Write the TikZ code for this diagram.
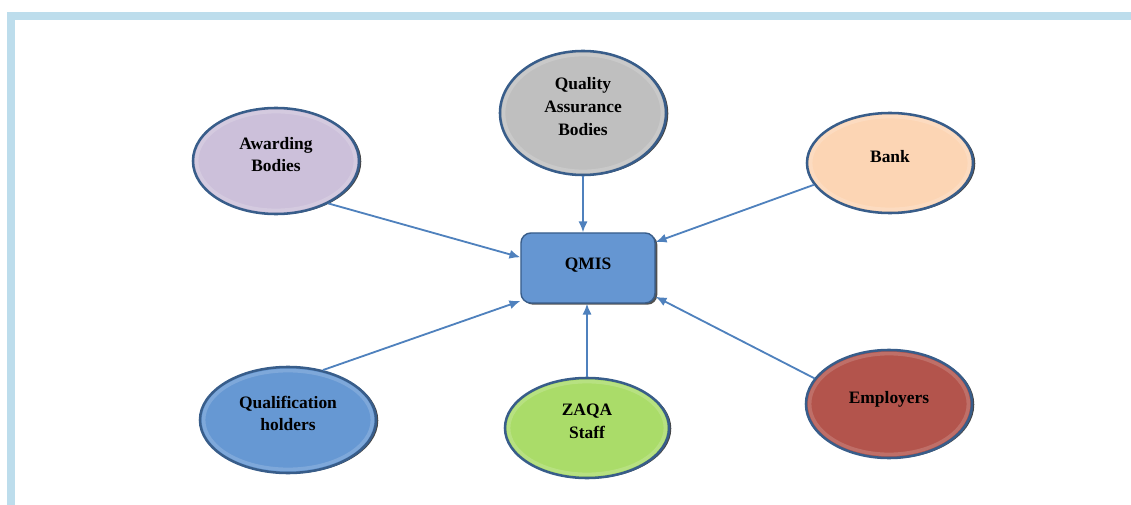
\documentclass[tikz,border=0pt]{standalone}
\usepackage{fontspec}
\setmainfont{Liberation Serif}
\usetikzlibrary{shapes.geometric, arrows.meta, shadows, calc}
\definecolor{framecol}{RGB}{189,221,236}
\definecolor{ringblue}{RGB}{56,93,138}
\definecolor{linkblue}{RGB}{79,129,189}
\definecolor{lilac}{RGB}{204,192,218}
\definecolor{greybody}{RGB}{191,191,191}
\definecolor{peach}{RGB}{252,213,180}
\definecolor{qmisblue}{RGB}{101,150,210}
\definecolor{holderblue}{RGB}{102,152,211}
\definecolor{limegreen}{RGB}{170,220,105}
\definecolor{brick}{RGB}{179,84,76}
\tikzset{
  bubble/.style={ellipse, draw=ringblue, line width=1.8pt, fill=#1, align=center,
    font=\bfseries\fontsize{12.4}{16.2}\selectfont, text depth=0.33cm,
    drop shadow={shadow xshift=1.6pt, shadow yshift=-0.4pt, fill=black!85, opacity=0.85},
    path picture={\draw[white, opacity=0.16, line width=2.5pt]
      let \p1=($(path picture bounding box.north east)-(path picture bounding box.center)$) in
      (path picture bounding box.center) ellipse [x radius=\x1-2.6pt, y radius=\y1-2.6pt];}},
  hub/.style={rectangle, rounded corners=7pt, draw=ringblue, line width=1pt, fill=qmisblue,
    minimum width=3.35cm, minimum height=1.75cm, font=\bfseries\fontsize{12.4}{16.2}\selectfont,
    text depth=0.2cm,
    drop shadow={shadow xshift=1.6pt, shadow yshift=-1.2pt, fill=black!85, opacity=0.8}},
  link/.style={draw=linkblue, line width=1.3pt, -{Latex[length=2.7mm,width=2.3mm]}}
}

\begin{document}
\begin{tikzpicture}[x=0.025cm, y=-0.025cm]

    % 1. Marco
    \useasboundingbox (0,0) rectangle (1131,505);
    \fill[framecol] (7,12) rectangle (1131,20);
    \fill[framecol] (7,12) rectangle (15,505);

    % 2. Nodo central
    \node[hub] (qmis) at (588,268) {QMIS};

    % 3. Elipses alrededor
    \node[bubble=lilac, minimum width=4.15cm, minimum height=2.65cm] (award) at (276,161) {Awarding\\Bodies};
    \node[bubble=greybody, minimum width=4.15cm, minimum height=3.1cm] (qab) at (583,113) {Quality\\Assurance\\Bodies};
    \node[bubble=peach, minimum width=4.15cm, minimum height=2.5cm] (bank) at (890,163) {Bank};
    \node[bubble=holderblue, minimum width=4.4cm, minimum height=2.65cm] (holders) at (288,420) {Qualification\\holders};
    \node[bubble=limegreen, minimum width=4.1cm, minimum height=2.5cm] (zaqa) at (587,428) {ZAQA\\Staff};
    \node[bubble=brick, minimum width=4.15cm, minimum height=2.7cm] (employers) at (889,404) {Employers};

    % 4. Flechas hacia QMIS
    \draw[link] (award.-39) -- (qmis.171.5);
    \draw[link] (qab.south) -- (qab.south |- qmis.north);
    \draw[link] (bank.196) -- (qmis.21);
    \draw[link] (holders.55) -- (qmis.206.6);
    \draw[link] (zaqa.north) -- (zaqa.north |- qmis.south);
    \draw[link] (employers.161) -- (qmis.-23.6);

\end{tikzpicture}
\end{document}
